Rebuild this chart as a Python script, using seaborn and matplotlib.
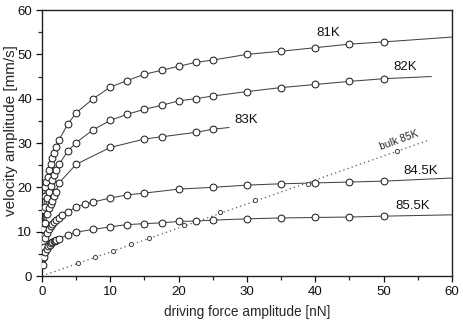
import numpy as np
import pandas as pd
import matplotlib
matplotlib.use("Agg")
import matplotlib.pyplot as plt
import seaborn as sns
from matplotlib.ticker import MultipleLocator

# ---------------- data ----------------
x_81 = [0.1, 0.25, 0.4, 0.5, 0.63, 0.83, 1.0, 1.25, 1.5, 1.75, 2.0, 2.5, 3.75, 5, 7.5, 10, 12.5, 15,
        17.5, 20, 22.5, 25, 30, 35, 40, 45, 50]
y_81 = [10.5, 15.0, 18.0, 20.0, 21.3, 22.4, 23.8, 25.3, 26.6, 27.8, 29.2, 30.7, 34.2, 36.8, 40.0, 42.6,
        44.1, 45.5, 46.4, 47.3, 48.2, 48.7, 50.0, 50.7, 51.5, 52.3, 52.8]

x_82 = [0.1, 0.25, 0.5, 0.75, 1.0, 1.25, 1.5, 1.75, 2.0, 2.5, 3.75, 5, 7.5, 10, 12.5, 15,
        17.5, 20, 22.5, 25, 30, 35, 40, 45, 50]
y_82 = [8.0, 12.0, 15.5, 17.5, 19.0, 20.3, 21.6, 22.8, 23.8, 25.2, 28.1, 30.1, 33.0, 35.1, 36.5, 37.6,
        38.5, 39.5, 40.0, 40.6, 41.6, 42.5, 43.2, 43.9, 44.5]

x_83 = [0.1, 0.25, 0.5, 0.75, 1.0, 1.25, 1.5, 1.75, 2.0, 2.5, 5, 10, 15, 17.5, 22.5, 25]
y_83 = [6.0, 9.0, 12.0, 14.0, 15.3, 16.3, 17.0, 18.0, 19.0, 21.0, 25.2, 29.0, 30.9, 31.4, 32.4, 33.1]

x_845 = [0.1, 0.25, 0.5, 0.75, 1.0, 1.25, 1.5, 1.75, 2.0, 2.5, 3.0, 3.75, 5, 6.25, 7.5, 10, 12.5, 15,
         20, 25, 30, 35, 40, 45, 50]
y_845 = [4.0, 6.5, 8.5, 9.7, 10.6, 11.2, 11.7, 12.2, 12.6, 13.0, 13.7, 14.4, 15.6, 16.2, 16.7, 17.6,
         18.3, 18.7, 19.6, 20.0, 20.5, 20.8, 21.0, 21.2, 21.4]

x_855 = [0.1, 0.3, 0.5, 0.7, 0.9, 1.1, 1.3, 1.5, 1.7, 1.9, 2.1, 2.5, 3.75, 5, 7.5, 10, 12.5, 15,
         17.5, 20, 22.5, 25, 30, 35, 40, 45, 50]
y_855 = [2.5, 4.3, 5.5, 6.2, 6.7, 7.1, 7.4, 7.6, 7.8, 8.0, 8.1, 8.4, 9.3, 9.9, 10.5, 11.1, 11.6, 11.8,
         12.0, 12.3, 12.4, 12.6, 12.9, 13.1, 13.2, 13.3, 13.5]

# fit curves: start at origin, pass the points, end where the drawn curve ends
end_81 = (60, 53.9)
end_82 = (57, 45.0)
end_83 = (27.4, 33.5)
end_845 = (60, 22.1)
end_855 = (60, 13.8)

x_bulk = [5.2, 7.8, 10.4, 13.0, 15.6, 20.8, 26.0, 31.2, 39.0, 52.0]
y_bulk = [3.0, 4.3, 5.7, 7.3, 8.6, 11.5, 14.4, 17.2, 20.8, 28.2]
bulk_line_x = [0, 56.7]
bulk_line_y = [0, 30.7]

labels = ["81K", "82K", "83K", "84.5K", "85.5K"]
label_x = [41.9, 53.1, 29.9, 55.4, 54.3]
label_y = [54.9, 47.1, 35.3, 23.7, 15.8]

x_ticks = [0, 10, 20, 30, 40, 50, 60]
y_ticks = [0, 10, 20, 30, 40, 50, 60]

# ---------------- plotting ----------------
sns.set_style("ticks")
plt.rcParams['font.family'] = ['Liberation Sans', 'DejaVu Sans']

fig = plt.figure(figsize=(4.63, 3.23), dpi=100)
ax = fig.add_axes([0.0907, 0.1455, 0.8853, 0.8235])

line_col = "#444444"
series = [(x_81, y_81, end_81), (x_82, y_82, end_82), (x_83, y_83, end_83),
          (x_845, y_845, end_845), (x_855, y_855, end_855)]
for xs, ys, end in series:
    cx = [0] + list(xs) + [end[0]]
    cy = [0] + list(ys) + [end[1]]
    df_line = pd.DataFrame({"x": cx, "y": cy})
    sns.lineplot(data=df_line, x="x", y="y", ax=ax, color=line_col, lw=0.75,
                 sort=False, estimator=None)
    df_pts = pd.DataFrame({"x": xs, "y": ys})
    sns.scatterplot(data=df_pts, x="x", y="y", ax=ax, s=24, marker="o",
                    facecolor="white", edgecolor="#222222", linewidth=0.75, zorder=3)

df_bl = pd.DataFrame({"x": bulk_line_x, "y": bulk_line_y})
sns.lineplot(data=df_bl, x="x", y="y", ax=ax, color="#555555", lw=0.9,
             linestyle=(0, (1, 2.5)), estimator=None)
df_bp = pd.DataFrame({"x": x_bulk, "y": y_bulk})
sns.scatterplot(data=df_bp, x="x", y="y", ax=ax, s=9, marker="o",
                facecolor="white", edgecolor="#444444", linewidth=0.7, zorder=3)

for t, lx, ly in zip(labels, label_x, label_y):
    ax.text(lx, ly, t, ha="center", va="center", fontsize=9.5, color="#111111")
ax.text(52.3, 30.6, "bulk 85K", ha="center", va="center", fontsize=7.5,
        rotation=20, color="#222222")

ax.set_xlim(0, 60)
ax.set_ylim(0, 60)
ax.set_xticks(x_ticks)
ax.set_yticks(y_ticks)
ax.xaxis.set_minor_locator(MultipleLocator(5))
ax.yaxis.set_minor_locator(MultipleLocator(5))
ax.tick_params(which="major", direction="out", length=4, width=0.9, labelsize=9.5,
               colors="#111111", pad=3)
ax.tick_params(which="minor", direction="out", length=3, width=0.9)
ax.set_xlabel("driving force amplitude [nN]", fontsize=9.8, labelpad=5)
ax.set_ylabel("velocity amplitude [mm/s]", fontsize=11)
ax.yaxis.set_label_coords(-0.058, 0.545)
for s in ax.spines.values():
    s.set_visible(True)
    s.set_linewidth(1.0)
    s.set_color("#222222")

fig.savefig("out.png", dpi=100)
